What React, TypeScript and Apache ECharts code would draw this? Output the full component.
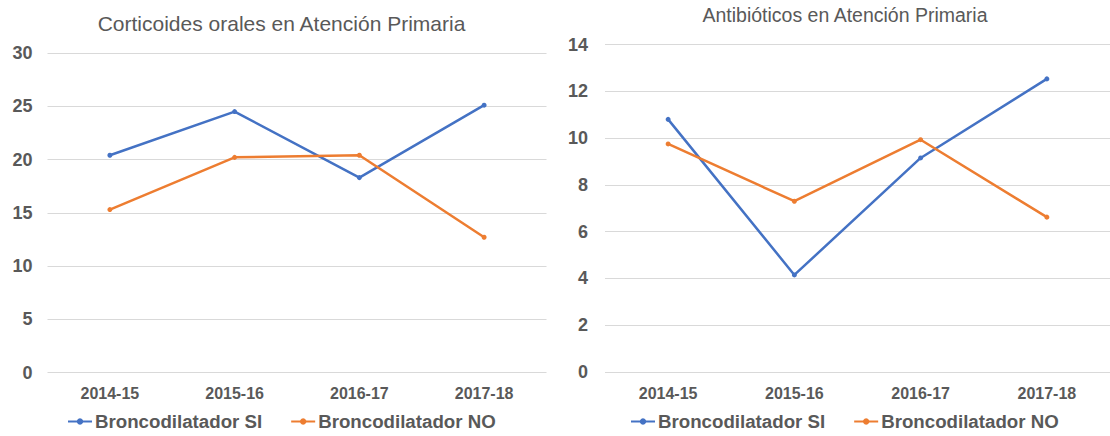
import React, { useEffect, useRef } from "react";
import * as echarts from "echarts";

const categories = ["2014-15", "2015-16", "2016-17", "2017-18"];
const seriesNames = ["Broncodilatador SI", "Broncodilatador NO"];
const corticoidesSI = [20.4, 24.5, 18.3, 25.1];
const corticoidesNO = [15.3, 20.2, 20.4, 12.7];
const antibioticosSI = [10.8, 4.15, 9.15, 12.53];
const antibioticosNO = [9.75, 7.3, 9.93, 6.62];
const titles = ["Corticoides orales en Atención Primaria", "Antibióticos en Atención Primaria"];

const FONT = "'Liberation Sans', Arial, sans-serif";
const GRAY = "#595959";
const BLUE = "#4472C4";
const ORANGE = "#ED7D31";

export default function App() {
  const ref = useRef<HTMLDivElement>(null);
  useEffect(() => {
    if (!ref.current) return;
    const chart = echarts.init(ref.current, undefined, { renderer: "svg" });
    const xAxisBase = (gridIndex: number) => ({
      type: "category" as const,
      gridIndex,
      data: categories,
      boundaryGap: true,
      axisLine: { show: false },
      axisTick: { show: false },
      axisLabel: { color: GRAY, fontWeight: "bold" as const, fontSize: 16, fontFamily: FONT, margin: 13 },
    });
    const yAxisBase = (gridIndex: number, max: number, interval: number, margin: number) => ({
      type: "value" as const,
      gridIndex,
      min: 0,
      max,
      interval,
      axisLine: { show: false },
      axisTick: { show: false },
      splitLine: { lineStyle: { color: "#d9d9d9", width: 1 } },
      axisLabel: { color: GRAY, fontWeight: "bold" as const, fontSize: 18, fontFamily: FONT, margin },
    });
    const line = (name: string, data: number[], color: string, idx: number) => ({
      type: "line" as const,
      name,
      data,
      xAxisIndex: idx,
      yAxisIndex: idx,
      symbol: "circle",
      symbolSize: 5,
      color,
      lineStyle: { color, width: 2.5 },
      itemStyle: { color },
    });
    const legendBase = (left: number) => ({
      left,
      top: 407,
      data: seriesNames,
      itemWidth: 24,
      itemHeight: 8,
      itemGap: 28,
      textStyle: { color: GRAY, fontWeight: "bold" as const, fontSize: 18.7, fontFamily: FONT, padding: [0, 0, 0, -2] },
    });
    chart.setOption({
      animation: false,
      backgroundColor: "#ffffff",
      graphic: [
        {
          type: "text",
          x: 281.5,
          y: 23,
          style: { text: titles[0], fill: GRAY, fontSize: 21, fontFamily: FONT, align: "center", verticalAlign: "middle" },
        },
        {
          type: "text",
          x: 845,
          y: 15,
          style: { text: titles[1], fill: GRAY, fontSize: 19.5, fontFamily: FONT, align: "center", verticalAlign: "middle" },
        },
      ],
      grid: [
        { left: 47.5, top: 53, width: 499, height: 319.5 },
        { left: 605, top: 44.5, width: 512, height: 327.5 },
      ],
      xAxis: [xAxisBase(0), xAxisBase(1)],
      yAxis: [yAxisBase(0, 30, 5, 15), yAxisBase(1, 14, 2, 17)],
      legend: [legendBase(62), legendBase(625)],
      series: [
        line(seriesNames[0], corticoidesSI, BLUE, 0),
        line(seriesNames[1], corticoidesNO, ORANGE, 0),
        line(seriesNames[0], antibioticosSI, BLUE, 1),
        line(seriesNames[1], antibioticosNO, ORANGE, 1),
      ],
    });
    return () => chart.dispose();
  }, []);
  return <div ref={ref} style={{ position: "fixed", left: 0, top: 0, width: 1110, height: 436 }} />;
}
